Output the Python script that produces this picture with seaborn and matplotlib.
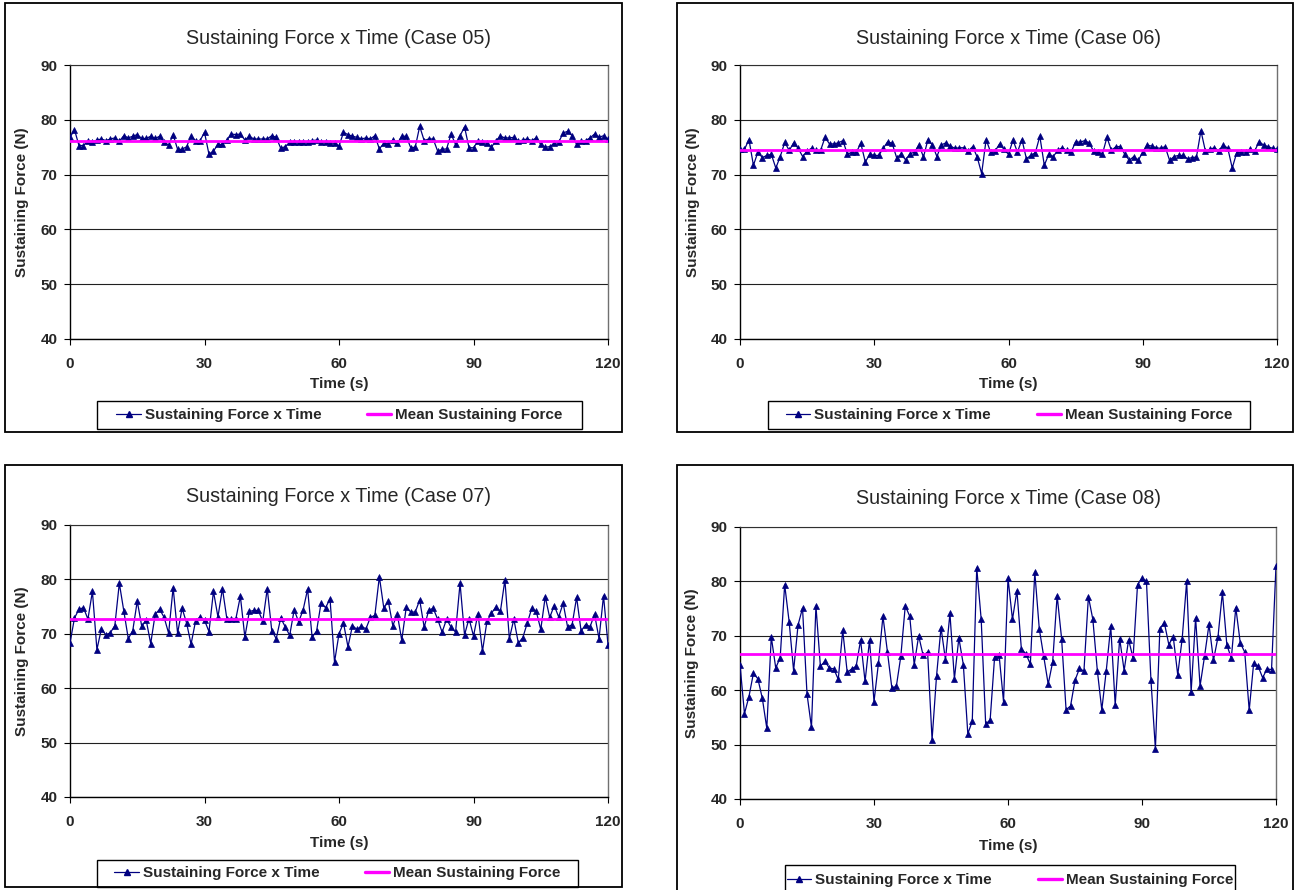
import numpy as np
import pandas as pd
import matplotlib
matplotlib.use("Agg")
import matplotlib.pyplot as plt
import seaborn as sns
from matplotlib.patches import Rectangle
from matplotlib.lines import Line2D

# ---------------- data ----------------
CASES = ["05", "06", "07", "08"]
TIME = list(range(0, 121))          # sampling instants, 1 s apart
TIME_TICKS = [0, 30, 60, 90, 120]
FORCE_TICKS = [40, 50, 60, 70, 80, 90]

force_05 = [
    76.8, 78.2, 75.3, 75.3, 76.2, 76.0, 76.3, 76.5, 76.2, 76.5,
    76.7, 76.1, 77.1, 76.7, 77.0, 77.3, 76.6, 76.6, 77.0, 76.6,
    77.0, 75.9, 75.4, 77.3, 74.6, 74.6, 75.1, 77.0, 76.2, 76.2,
    77.7, 73.7, 74.3, 75.5, 75.5, 76.3, 77.4, 77.3, 77.4, 76.3,
    77.0, 76.5, 76.5, 76.5, 76.5, 77.1, 76.8, 74.8, 75.1, 75.9,
    76.0, 75.9, 75.9, 75.9, 76.2, 76.3, 75.9, 75.9, 75.8, 75.7,
    75.2, 77.7, 77.3,
    77.0, 76.8, 76.5, 76.7, 76.5, 77.1, 74.7, 75.7, 75.6, 76.3,
    75.7, 77.0, 77.0, 74.9, 75.0, 78.8, 76.2, 76.5, 76.5, 74.3,
    74.6, 74.7, 77.4, 75.5, 77.1, 78.7, 74.9, 74.9, 76.1, 75.9,
    75.7, 75.0, 76.2, 77.0, 76.7, 76.7, 76.8, 76.1, 76.3, 76.5,
    76.2, 76.7, 75.5, 75.0, 75.1, 75.7, 75.9, 77.6, 77.9, 77.1,
    75.5, 76.2, 76.2, 76.7, 77.4, 76.8, 77.1, 76.5,
]

force_06 = [
    74.6, 74.6, 76.4, 71.7, 74.1, 73.1, 73.5, 73.7, 71.2, 73.3,
    75.9, 74.4, 75.8, 74.8, 73.3, 74.3, 74.8, 74.4, 74.4, 76.8,
    75.6, 75.6, 75.8, 76.2, 73.7, 74.1, 74.1, 75.7, 72.3, 73.7,
    73.5, 73.5, 74.8, 76.0, 75.7, 73.1, 73.7, 72.7, 73.8, 74.1,
    75.4, 73.2, 76.4, 75.4, 73.3, 75.4, 75.8, 75.2, 74.8, 74.9,
    74.9, 74.3, 75.1, 73.2, 70.2, 76.4, 74.1, 74.3, 75.6, 74.6,
    73.7,
    76.3, 74.1, 76.4, 72.9, 73.5, 74.0, 77.0, 71.7, 73.7, 73.3,
    74.4, 74.9, 74.4, 74.1, 76.0, 75.9, 76.2, 75.8, 74.3, 74.1,
    73.8, 76.8, 74.4, 75.1, 75.1, 73.7, 72.6, 73.3, 72.6, 74.1,
    75.4, 75.2, 74.9, 74.8, 75.1, 72.6, 73.3, 73.5, 73.5, 72.9,
    73.1, 73.2, 78.0, 74.3, 74.6, 74.9, 74.3, 75.4, 74.8, 71.2,
    74.0, 74.1, 74.1, 74.6, 74.3, 76.0, 75.4, 75.1, 74.8, 74.6,
]

force_07 = [
    68.3, 72.9, 74.5, 74.8, 72.7, 77.8, 67.1, 70.9, 69.8, 70.2,
    71.5, 79.3, 74.2, 69.1, 70.6, 76.0, 71.4, 72.5, 68.2, 73.6,
    74.5, 73.0, 70.1, 78.5, 70.1, 74.7, 72.0, 68.1, 72.3, 73.1,
    72.5, 70.4, 77.8, 73.1, 78.3, 72.7, 72.8, 72.8, 76.9, 69.4,
    74.1, 74.3, 74.3, 72.3, 78.3, 70.6, 69.1, 72.9, 71.3, 69.7,
    74.4, 72.2, 74.4, 78.2, 69.4, 70.5, 75.7, 74.8, 76.4, 64.8,
    70.0, 72.0, 67.6,
    71.5, 70.8, 71.4, 70.9, 73.0, 73.4, 80.5, 74.7, 76.0, 71.5,
    73.6, 68.8, 74.9, 74.0, 74.0, 76.2, 71.2, 74.3, 74.7, 72.7,
    70.3, 72.7, 71.2, 70.3, 79.3, 69.8, 72.8, 69.6, 73.7, 66.8,
    72.3, 73.8, 74.9, 74.1, 79.9, 69.1, 72.7, 68.3, 69.3, 72.0,
    74.7, 74.1, 70.8, 76.8, 73.0, 75.2, 73.1, 75.6, 71.2, 71.7,
    76.7, 70.5, 71.7, 71.3, 73.6, 69.1, 77.0, 68.0,
]

force_08 = [
    64.7, 55.7, 58.8, 63.1, 62.1, 58.5, 53.0, 69.8, 64.1, 66.0,
    79.4, 72.6, 63.6, 72.0, 75.1, 59.3, 53.2, 75.5, 64.4, 65.3,
    64.1, 63.9, 62.0, 71.0, 63.3, 63.9, 64.4, 69.2, 61.6, 69.2,
    57.9, 65.0, 73.6, 67.1, 60.4, 60.7, 66.2, 75.5, 73.6, 64.7,
    70.0,
    66.4, 67.0, 50.9, 62.6, 71.5, 65.6, 74.1, 62.1, 69.6, 64.7,
    52.0, 54.3, 82.5, 73.0, 53.8, 54.5, 66.1, 66.5, 57.9, 80.6,
    73.0, 78.3, 67.5, 66.7, 64.8, 81.7, 71.3, 66.2, 61.1, 65.2,
    77.4, 69.5, 56.4, 57.1, 61.8, 64.0, 63.5, 77.2, 73.0, 63.6,
    56.4, 63.6, 71.8, 57.3, 69.5, 63.6, 69.3, 65.9, 79.4, 80.6,
    80.0, 61.9, 49.2, 71.3, 72.4, 68.4, 69.8, 62.8, 69.5, 80.0,
    59.7, 73.3, 60.8, 66.2, 72.1, 65.5, 69.7, 78.0, 68.3, 65.9,
    75.2, 68.7, 67.0, 56.3, 65.0, 64.4, 62.3, 63.9, 63.8, 82.9,
]

MEANS = [76.2, 74.4, 72.8, 66.7]
SERIES = [force_05, force_06, force_07, force_08]

TITLE_FMT = "Sustaining Force x Time (Case {})"
XLABEL = "Time (s)"
YLABEL = "Sustaining Force (N)"
LEGEND_LABELS = ["Sustaining Force x Time", "Mean Sustaining Force"]

# ---------------- style ----------------
sns.set_style("white")
plt.rcParams['font.family'] = ['Liberation Sans', 'DejaVu Sans']

NAVY = "#000080"
MAGENTA = "#FF00FF"

W, H = 1299, 890
fig = plt.figure(figsize=(W / 100, H / 100), dpi=100)
fig.patch.set_facecolor("white")


def fx(px):
    return px / W


def fy(py):
    return 1 - py / H


# pixel layout for each panel
LAYOUT = [
    dict(box=(5, 3, 622, 432), ax=(70, 65, 608, 339), title_y=38, ylab_x=22,
         xlab_y=384, leg=(97, 401, 582, 429)),
    dict(box=(677, 3, 1293, 432), ax=(740, 65, 1277, 339), title_y=38, ylab_x=693,
         xlab_y=384, leg=(768, 401, 1250, 429)),
    dict(box=(5, 465, 622, 887), ax=(70, 525, 608, 797), title_y=497, ylab_x=22,
         xlab_y=843, leg=(97, 860, 578, 887)),
    dict(box=(677, 465, 1293, 900), ax=(740, 527, 1276, 799), title_y=499, ylab_x=692,
         xlab_y=846, leg=(785, 865, 1235, 895)),
]

BOLD11 = dict(size=11, weight="bold")

for case, vals, mean, lay in zip(CASES, SERIES, MEANS, LAYOUT):
    # outer chart border
    bl, bt, br, bb = lay["box"]
    fig.patches.append(Rectangle((fx(bl), fy(bb)), (br - bl) / W, (bb - bt) / H,
                                 transform=fig.transFigure, fill=False,
                                 ec="black", lw=1.3, zorder=0))

    l, t, r, b = lay["ax"]
    ax = fig.add_axes([fx(l), fy(b), (r - l) / W, (b - t) / H])
    df = pd.DataFrame({"Time": TIME, "Force": vals})
    sns.lineplot(data=df, x="Time", y="Force", ax=ax, color=NAVY, lw=0.9,
                 marker="^", markersize=3.8, markeredgecolor=NAVY,
                 markerfacecolor=NAVY, markeredgewidth=0.5, zorder=3)
    ax.axhline(mean, color=MAGENTA, lw=2.0, zorder=4)

    ax.set_xlim(0, 120)
    ax.set_ylim(40, 90)
    ax.set_xticks(TIME_TICKS)
    ax.set_yticks(FORCE_TICKS)
    ax.set_xticklabels([str(v) for v in TIME_TICKS], fontdict=BOLD11)
    ax.set_yticklabels([str(v) for v in FORCE_TICKS], fontdict=BOLD11)
    ax.tick_params(axis="both", direction="out", length=4, width=0.8,
                   color="black", bottom=True, left=True)
    ax.tick_params(axis="x", pad=9)
    ax.tick_params(axis="y", pad=5)
    ax.set_xlabel("")
    ax.set_ylabel("")
    ax.grid(False)
    ax.yaxis.grid(True, color="#202020", lw=0.8)
    ax.set_axisbelow(True)
    for side in ["left", "bottom"]:
        ax.spines[side].set_color("black")
        ax.spines[side].set_linewidth(1.0)
    ax.spines["top"].set_color("#303030")
    ax.spines["top"].set_linewidth(0.8)
    ax.spines["right"].set_color("#707070")
    ax.spines["right"].set_linewidth(1.0)

    cx = (l + r) / 2
    fig.text(fx(cx), fy(lay["title_y"]), TITLE_FMT.format(case), ha="center",
             va="center", fontsize=14.2)
    fig.text(fx(cx), fy(lay["xlab_y"]), XLABEL, ha="center", va="center", **BOLD11)
    fig.text(fx(lay["ylab_x"]), fy((t + b) / 2), YLABEL, ha="center", va="center",
             rotation=90, **BOLD11)

    # legend
    ll, lt, lr, lb = lay["leg"]
    fig.patches.append(Rectangle((fx(ll), fy(lb)), (lr - ll) / W, (lb - lt) / H,
                                 transform=fig.transFigure, fill=False,
                                 ec="black", lw=1.0, zorder=0))
    handles = [Line2D([], [], color=NAVY, lw=0.9, marker="^", markersize=3.8,
                      markeredgecolor=NAVY, markerfacecolor=NAVY),
               Line2D([], [], color=MAGENTA, lw=2.4)]
    fig.legend(handles, LEGEND_LABELS, loc="center",
               bbox_to_anchor=(fx((ll + lr) / 2), fy((lt + lb) / 2)),
               ncol=2, frameon=False, prop=BOLD11, handlelength=1.6,
               handletextpad=0.25, columnspacing=3.0, borderpad=0.2)

fig.savefig("out.png", dpi=100, facecolor="white")
